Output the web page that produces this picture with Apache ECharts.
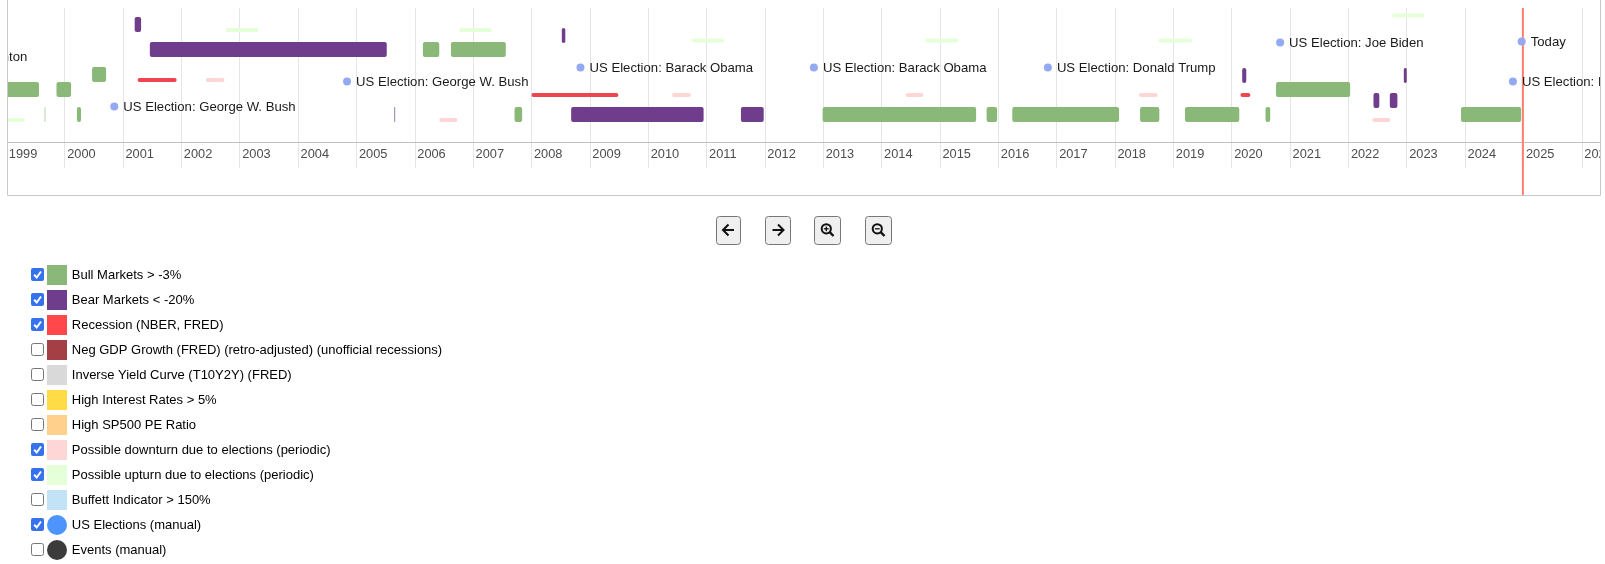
<!DOCTYPE html>
<html>
<head>
<meta charset="utf-8">
<style>html,body{margin:0;padding:0;background:#fff;overflow:hidden}#c{width:1605px;height:564px}</style>
<script src="https://cdn.jsdelivr.net/npm/echarts@6/dist/echarts.min.js"></script>
</head>
<body>
<div id="c"></div>
<script>
// [start year, end year, lane]
const bullMarkets = [
  [1998.5,1999.56,16.3],[1999.86,2000.11,16.3],[2000.47,2000.71,13.3],[1999.655,1999.672,21.3],
  [2000.21,2000.28,21.3],[2006.14,2006.42,8.3],[2006.62,2007.56,8.3],[2007.71,2007.84,21.3],
  [2012.99,2015.62,21.3],[2015.80,2015.98,21.3],[2016.24,2018.07,21.3],[2018.43,2018.76,21.3],
  [2019.20,2020.13,21.3],[2020.58,2020.66,21.3],[2020.76,2022.03,16.3],[2023.93,2024.96,21.3]
];
const bearMarkets = [
  [2001.20,2001.31,3.3],[2001.46,2005.52,8.3],[2005.645,2005.665,21.3],[2008.52,2008.58,5.5],
  [2008.68,2010.95,21.3],[2011.59,2011.98,21.3],[2020.18,2020.25,13.5],[2022.43,2022.53,18.5],
  [2022.71,2022.84,18.5],[2022.95,2023.00,13.5]
];
const recessions = [[2001.25,2001.92,14.4],[2008.00,2009.49,17.4],[2020.15,2020.32,17.4]];
const downturns = [
  [2002.42,2002.74,14.4],[2006.42,2006.73,22.4],[2010.41,2010.73,17.4],[2014.41,2014.72,17.4],
  [2018.41,2018.73,17.4],[2022.41,2022.72,22.4]
];
const upturns = [
  [1998.76,1999.32,22.4],[2002.76,2003.32,4.4],[2006.76,2007.32,4.4],[2010.74,2011.31,6.5],
  [2014.75,2015.32,6.5],[2018.74,2019.32,6.5],[2022.75,2023.30,1.5]
];
const electionYears = [1996.84,2000.85,2004.84,2008.84,2012.84,2016.85,2020.83,2024.82];
const electionLanes = [9.7,19.7,14.7,11.9,11.9,11.9,6.9,14.7];
const electionNames = ['Bill Clinton','George W. Bush','George W. Bush','Barack Obama','Barack Obama','Donald Trump','Joe Biden','Donald Trump'];
const todayYear = 2024.99;
const todayLane = 6.7;

const legendLabels = ['Bull Markets > -3%','Bear Markets < -20%','Recession (NBER, FRED)','Neg GDP Growth (FRED) (retro-adjusted) (unofficial recessions)','Inverse Yield Curve (T10Y2Y) (FRED)','High Interest Rates > 5%','High SP500 PE Ratio','Possible downturn due to elections (periodic)','Possible upturn due to elections (periodic)','Buffett Indicator > 150%','US Elections (manual)','Events (manual)'];
const legendColors = ['#8ab878','#6f3d8b','#ff474c','#a33f45','#d9d9d9','#ffdc45','#ffd08c','#ffd6d6','#e5ffd9','#c2e3f5','#4d94ff','#3b3b3b'];
const legendChecked = [1,1,1,0,0,0,0,1,1,0,1,0];
const legendRound = [0,0,0,0,0,0,0,0,0,0,1,1];

const FONT = '"Liberation Sans", Arial, sans-serif';
const chart = echarts.init(document.getElementById('c'));

function barSeries(name, data, color, h) {
  return {
    name, type: 'custom', data, clip: true, silent: true, z: 3,
    encode: {x: [0, 1], y: 2},
    renderItem(p, api) {
      const a = api.coord([api.value(0), api.value(2)]);
      const b = api.coord([api.value(1), api.value(2)]);
      const w = Math.max(b[0] - a[0], 1);
      return {type: 'rect', shape: {x: a[0], y: a[1] - h / 2, width: w, height: h, r: Math.min(2, w / 2)}, style: {fill: color, opacity: w < 2 ? 0.6 : 1}};
    }
  };
}
function pointSeries(name, data, z) {
  return {
    name, type: 'custom', data, clip: true, silent: true, z,
    encode: {x: 0, y: 1},
    renderItem(p, api) {
      const c = api.coord([api.value(0), api.value(1)]);
      return {type: 'group', children: [
        {type: 'circle', shape: {cx: c[0], cy: c[1], r: 4}, style: {fill: '#93aaf2'}},
        {type: 'text', style: {x: c[0] + 9, y: c[1] + 0.7, text: data[p.dataIndex][2], fill: '#1a1a1a', font: '13.15px ' + FONT, verticalAlign: 'middle'}}
      ]};
    }
  };
}

const BORDER = '#c8c8c8';
const graphics = [
  {type: 'rect', silent: true, z: 20, shape: {x: 0, y: 0, width: 7.5, height: 200}, style: {fill: '#fff'}},
  {type: 'rect', silent: true, z: 20, shape: {x: 1600.5, y: 0, width: 5, height: 200}, style: {fill: '#fff'}},
  {type: 'line', silent: true, z: 21, shape: {x1: 7.5, y1: 0, x2: 7.5, y2: 195.5}, style: {stroke: BORDER, lineWidth: 1}},
  {type: 'line', silent: true, z: 21, shape: {x1: 1600.5, y1: 0, x2: 1600.5, y2: 195.5}, style: {stroke: BORDER, lineWidth: 1}},
  {type: 'line', silent: true, z: 21, shape: {x1: 7.5, y1: 195.5, x2: 1600.5, y2: 195.5}, style: {stroke: BORDER, lineWidth: 1}}
];

legendLabels.forEach((label, i) => {
  const cy = 275 + i * 25;
  graphics.push(legendChecked[i]
    ? {type: 'rect', silent: true, shape: {x: 31, y: cy - 7, width: 13, height: 13, r: 2}, style: {fill: '#3572ec'}}
    : {type: 'rect', silent: true, shape: {x: 31.5, y: cy - 6.5, width: 12, height: 12, r: 2}, style: {fill: '#fff', stroke: '#767676', lineWidth: 1}});
  if (legendChecked[i]) graphics.push({type: 'polyline', silent: true, shape: {points: [[34.2, cy - 0.2], [36.7, cy + 2.5], [41, cy - 3.5]]}, style: {fill: 'none', stroke: '#fff', lineWidth: 2}});
  graphics.push(legendRound[i]
    ? {type: 'circle', silent: true, shape: {cx: 57, cy, r: 10}, style: {fill: legendColors[i]}}
    : {type: 'rect', silent: true, shape: {x: 47, y: cy - 10, width: 20, height: 20}, style: {fill: legendColors[i]}});
  graphics.push({type: 'text', silent: true, style: {x: 71.8, y: cy + 0.5, text: label, fill: '#000', font: '13px ' + FONT, verticalAlign: 'middle'}});
});

// navigation buttons
const btns = [[716.5, 24], [765.5, 25], [814.5, 26], [865.5, 26]];
btns.forEach((b, i) => {
  const cx = b[0] + b[1] / 2, cy = 230;
  graphics.push({type: 'rect', silent: true, shape: {x: b[0], y: 216.5, width: b[1], height: 28, r: 3}, style: {fill: '#efefef', stroke: '#767676', lineWidth: 1}});
  const st = {fill: 'none', stroke: '#111', lineWidth: 2};
  if (i < 2) {
    const d = i === 0 ? 1 : -1;
    graphics.push({type: 'line', silent: true, shape: {x1: cx - 5.5, y1: cy, x2: cx + 5.5, y2: cy}, style: st});
    graphics.push({type: 'polyline', silent: true, shape: {points: [[cx + d * 0, cy - 5.5], [cx - d * 5.5, cy], [cx + d * 0, cy + 5.5]]}, style: st});
  } else {
    graphics.push({type: 'circle', silent: true, shape: {cx: cx - 1.2, cy: cy - 1.2, r: 4.6}, style: st});
    graphics.push({type: 'line', silent: true, shape: {x1: cx + 2.2, y1: cy + 2.2, x2: cx + 6, y2: cy + 6}, style: {stroke: '#111', lineWidth: 2.4}});
    graphics.push({type: 'line', silent: true, shape: {x1: cx - 3.6, y1: cy - 1.2, x2: cx + 1.2, y2: cy - 1.2}, style: {stroke: '#111', lineWidth: 1.3}});
    if (i === 2) graphics.push({type: 'line', silent: true, shape: {x1: cx - 1.2, y1: cy - 3.6, x2: cx - 1.2, y2: cy + 1.2}, style: {stroke: '#111', lineWidth: 1.3}});
  }
});

chart.setOption({
  animation: false,
  backgroundColor: '#fff',
  tooltip: {show: false},
  grid: {left: 6.3, right: 5.7, top: 8, height: 160, containLabel: false, outerBoundsMode: 'none'},
  xAxis: {
    type: 'value', min: 1999, max: 2026.3, interval: 1, offset: -25.7, scale: true,
    axisLine: {show: true, onZero: false, lineStyle: {color: '#bfbfbf', width: 1}},
    axisTick: {show: false},
    axisLabel: {
      show: true, margin: 6, align: 'left', padding: [0, 0, 0, 2.5], color: '#4d4d4d', fontSize: 12.8, fontFamily: FONT,
      showMinLabel: true, showMaxLabel: false, hideOverlap: false,
      formatter: v => String(Math.round(v))
    },
    splitLine: {show: true, showMinLine: false, showMaxLine: false, lineStyle: {color: '#e5e5e5', width: 1}}
  },
  yAxis: {type: 'value', inverse: true, min: 0, max: 32, show: false, splitLine: {show: false}},
  series: [
    barSeries('Bull Markets', bullMarkets, '#8ab878', 15),
    barSeries('Bear Markets', bearMarkets, '#6f3d8b', 15),
    barSeries('Recession', recessions, '#ee4650', 4),
    barSeries('Possible downturn', downturns, '#ffd6d6', 4),
    barSeries('Possible upturn', upturns, '#e5ffd9', 4),
    {
      name: 'Today line', type: 'custom', data: [[todayYear, 0, 37.5]], clip: false, silent: true, z: 4,
      encode: {x: 0, y: [1, 2]},
      renderItem(p, api) {
        const a = api.coord([api.value(0), api.value(1)]);
        const b = api.coord([api.value(0), api.value(2)]);
        return {type: 'line', shape: {x1: a[0], y1: a[1], x2: b[0], y2: b[1]}, style: {stroke: '#ff7f6e', lineWidth: 2}};
      }
    },
    pointSeries('US Elections', electionYears.map((y, i) => [y, electionLanes[i], 'US Election: ' + electionNames[i]]), 5),
    pointSeries('Today', [[todayYear - 0.02, todayLane, 'Today']], 5)
  ],
  graphic: graphics
});
</script>
</body>
</html>
